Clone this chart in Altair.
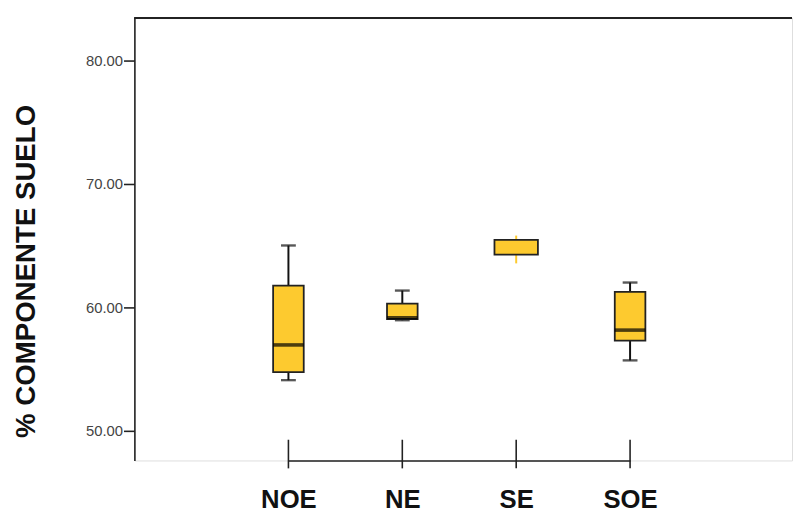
import altair as alt
import pandas as pd

categories = ["NOE", "NE", "SE", "SOE"]
whisker_low = [54.1, 58.95, 63.55, 55.7]
q1 = [54.75, 59.05, 64.25, 57.3]
median = [56.95, 59.15, 65.4, 58.15]
q3 = [61.75, 60.3, 65.45, 61.25]
whisker_high = [65.0, 61.35, 65.8, 62.0]

y_ticks = [50, 60, 70, 80]

df = pd.DataFrame({
    "cat": categories,
    "lo": whisker_low,
    "q1": q1,
    "med": median,
    "q3": q3,
    "hi": whisker_high,
})

YELLOW = "#FDCA2F"
W, H = 666, 448
FONT = "Liberation Sans"

x_scale = alt.Scale(type="point", padding=0, range=[156, 502])
x_enc = alt.X(
    "cat:N",
    sort=categories,
    scale=x_scale,
    axis=alt.Axis(
        title=None, ticks=False, domain=True, domainColor="#222", domainWidth=1.6,
        labelFont=FONT, labelFontSize=26, labelFontWeight="bold", labelColor="#111",
        labelPadding=27, labelAngle=0, grid=False,
    ),
)
y_scale = alt.Scale(domain=[47.6, 83.4], nice=False, zero=False)
y_axis = alt.Axis(
    title="% COMPONENTE SUELO", values=y_ticks, format=".2f", grid=False,
    domainColor="#222", domainWidth=1.6, tickColor="#222", tickWidth=1.6, tickSize=11,
    labelFont=FONT, labelFontSize=15, labelColor="#444", labelPadding=1,
    titleFont=FONT, titleFontSize=28, titleFontWeight="bold", titleColor="#111",
    titleAngle=-90, titleAlign="center", titleBaseline="alphabetic",
    titleX=-101, titleY=256,
)

base = alt.Chart(df)
xs = alt.X("cat:N", sort=categories)

whisk_lo = base.mark_rule(strokeWidth=2).encode(
    x=x_enc,
    y=alt.Y("lo:Q", scale=y_scale, axis=y_axis),
    y2="q1:Q",
    color=alt.condition(alt.datum.cat == "SE", alt.value(YELLOW), alt.value("#111")),
)
whisk_hi = base.mark_rule(strokeWidth=2).encode(
    x=xs,
    y="q3:Q",
    y2="hi:Q",
    color=alt.condition(alt.datum.cat == "SE", alt.value(YELLOW), alt.value("#111")),
)
caps_lo = base.transform_filter(alt.datum.cat != "SE").mark_tick(
    orient="horizontal", size=15, thickness=2.4, color="#111"
).encode(x=xs, y="lo:Q")
caps_hi = base.transform_filter(alt.datum.cat != "SE").mark_tick(
    orient="horizontal", size=15, thickness=2.4, color="#111"
).encode(x=xs, y="hi:Q")

boxes = base.mark_bar(fill=YELLOW, stroke="#222", strokeWidth=1.8).encode(
    x=xs,
    y="q1:Q",
    y2="q3:Q",
    size=alt.condition(alt.datum.cat == "SE", alt.value(44), alt.value(31)),
)
medians = base.transform_filter(alt.datum.cat != "SE").mark_tick(
    orient="horizontal", size=31, thickness=3.6, color="#000"
).encode(x=xs, y="med:Q")

xticks = base.mark_rule(strokeWidth=1.6, color="#222").encode(
    x=xs,
    y=alt.value(427),
    y2=alt.value(456),
)
top_line = base.mark_rule(strokeWidth=1.6, color="#222").encode(
    x=alt.value(0), x2=alt.value(W), y=alt.value(0)
)

chart = alt.layer(
    whisk_lo, whisk_hi, caps_lo, caps_hi, boxes, medians, xticks, top_line
).properties(
    width=W, height=H,
    padding={"left": 4, "top": 6, "right": 0, "bottom": 0},
).configure_view(stroke=None).configure(background="white")

chart.save("out.html", embed_options={"renderer": "svg", "actions": False})
